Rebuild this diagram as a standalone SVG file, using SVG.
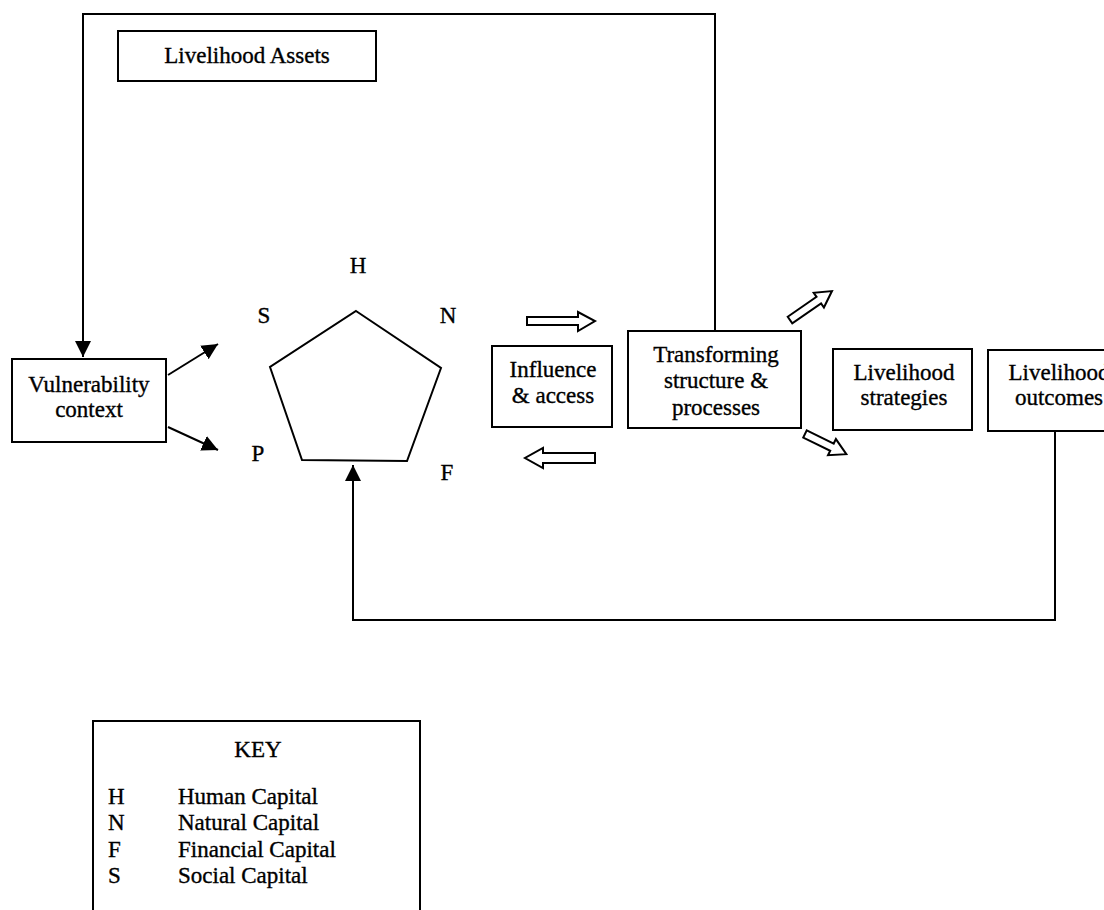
<svg xmlns="http://www.w3.org/2000/svg" width="1104" height="910" viewBox="0 0 1104 910">
<style>
.box{fill:#fff;stroke:#000;stroke-width:2}
.ln{fill:none;stroke:#000;stroke-width:2}
.hol{fill:#fff;stroke:#000;stroke-width:2;stroke-linejoin:miter}
text{font-family:"Liberation Serif","Times New Roman",serif;font-size:23px;fill:#000;stroke:#000;stroke-width:0.35}
.c{text-anchor:middle}
</style>
<defs>
<marker id="ah" viewBox="0 0 16 16" refX="16" refY="8" markerWidth="16" markerHeight="16" markerUnits="userSpaceOnUse" orient="auto">
<path d="M0,0 L16,8 L0,16 Z" fill="#000"/>
</marker>
</defs>
<rect width="1104" height="910" fill="#fff"/>
<g id="connectors">
<path class="ln" d="M715,331 V14 H83 V357" marker-end="url(#ah)"/>
<path class="ln" d="M1055,432 V620 H353 V465" marker-end="url(#ah)"/>
<path class="ln" d="M168,375 L218,344" marker-end="url(#ah)"/>
<path class="ln" d="M168,427 L218,450" marker-end="url(#ah)"/>
<polygon class="hol" points="527,317 578,317 578,312 595,321 578,331 578,325 527,325"/>
<polygon class="hol" points="595,453 543,453 543,448 525,458 543,468 543,463 595,463"/>
<polygon class="hol" transform="translate(790,320) rotate(-34.6)" points="0,-4 35,-4 35,-9 51,0 35,9 35,4 0,4"/>
<polygon class="hol" transform="translate(805,434) rotate(26)" points="0,-4 30,-4 30,-9 46,0 30,9 30,4 0,4"/>
</g>
<g id="livelihood-assets">
<rect class="box" x="118" y="31" width="258" height="50"/>
<text class="c" x="247" y="63">Livelihood Assets</text>
</g>
<g id="vulnerability">
<rect class="box" x="12" y="359" width="154" height="83"/>
<text class="c" x="89" y="392">Vulnerability</text>
<text class="c" x="89" y="417">context</text>
</g>
<g id="pentagon">
<polygon class="ln" points="356,311 441,368 407,461 302,460 270,367"/>
<text class="c" x="358" y="273">H</text>
<text class="c" x="264" y="323">S</text>
<text class="c" x="448" y="323">N</text>
<text class="c" x="258" y="461">P</text>
<text class="c" x="447" y="480">F</text>
</g>
<g id="influence">
<rect class="box" x="492" y="346" width="120" height="81"/>
<text class="c" x="553" y="377">Influence</text>
<text class="c" x="553" y="403">&amp; access</text>
</g>
<g id="transforming">
<rect class="box" x="628" y="331" width="173" height="97"/>
<text class="c" x="716" y="362">Transforming</text>
<text class="c" x="716" y="388">structure &amp;</text>
<text class="c" x="716" y="415">processes</text>
</g>
<g id="strategies">
<rect class="box" x="833" y="349" width="139" height="81"/>
<text class="c" x="904" y="380">Livelihood</text>
<text class="c" x="904" y="405">strategies</text>
</g>
<g id="outcomes">
<rect class="box" x="988" y="350" width="140" height="81"/>
<text class="c" x="1059" y="380">Livelihood</text>
<text class="c" x="1059" y="405">outcomes</text>
</g>
<g id="key">
<path class="ln" d="M93,912 V721 H420 V912"/>
<text class="c" x="258" y="757">KEY</text>
<text x="108" y="804">H</text><text x="178" y="804">Human Capital</text>
<text x="108" y="830">N</text><text x="178" y="830">Natural Capital</text>
<text x="108" y="857">F</text><text x="178" y="857">Financial Capital</text>
<text x="108" y="883">S</text><text x="178" y="883">Social Capital</text>
</g>
</svg>
